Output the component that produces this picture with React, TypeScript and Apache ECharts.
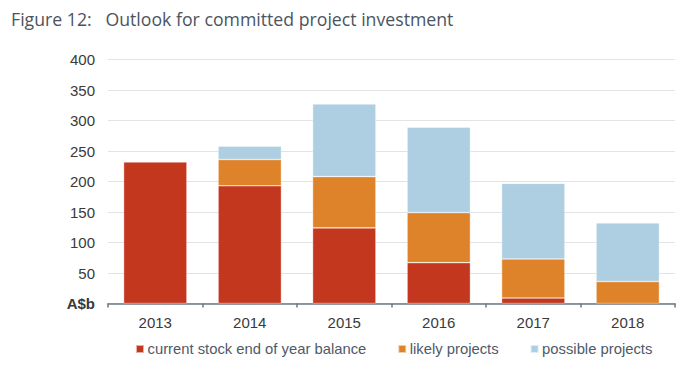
import React, { useEffect, useRef } from "react";
import * as echarts from "echarts";

const categories = ["2013", "2014", "2015", "2016", "2017", "2018"];
const currentStock = [232, 193, 124, 67, 9, 0];
const likelyProjects = [0, 43, 84, 82, 64, 36];
const possibleProjects = [0, 22, 119, 140, 124, 96];
const seriesNames = ["current stock end of year balance", "likely projects", "possible projects"];
const colors = ["#C3371F", "#DE832A", "#AECFE1"];

export default function App() {
  const ref = useRef<HTMLDivElement>(null);
  useEffect(() => {
    if (!ref.current) return;
    const chart = echarts.init(ref.current, null, { renderer: "svg" });
    const values = [currentStock, likelyProjects, possibleProjects];
    chart.setOption({
      animation: false,
      title: {
        text: "Figure 12:   Outlook for committed project investment",
        left: 6,
        top: 5,
        textStyle: { fontFamily: "Open Sans", fontSize: 17.7, fontWeight: "normal", color: "#4b5461" },
      },
      grid: { left: 108, right: 7, top: 59.5, bottom: 65.5, containLabel: false },
      legend: {
        left: 135,
        top: 341.5,
        padding: 0,
        icon: "rect",
        itemWidth: 8,
        itemHeight: 8,
        itemGap: 31,
        textStyle: { fontFamily: "Liberation Sans", fontSize: 14.8, color: "#4f5968", padding: [0, 0, 0, -1.5] },
        data: seriesNames,
      },
      xAxis: {
        type: "category",
        data: categories,
        axisLine: { lineStyle: { color: "#6f7782", width: 1.5 } },
        axisTick: { show: true, length: 4, lineStyle: { color: "#6f7782", width: 1.5 } },
        axisLabel: { fontFamily: "Liberation Sans", fontSize: 15, color: "#3a3a3a", margin: 11 },
      },
      yAxis: {
        type: "value",
        min: 0,
        max: 400,
        interval: 50,
        axisLine: { show: false },
        axisTick: { show: false },
        splitLine: { lineStyle: { color: "#e1e4e7", width: 1.2 } },
        axisLabel: {
          fontFamily: "Liberation Sans",
          fontSize: 15,
          color: "#3a3a3a",
          margin: 13,
          formatter: (v: number) => (v === 0 ? "{b|A$b}" : String(v)),
          rich: { b: { fontFamily: "Liberation Sans", fontSize: 15, fontWeight: "bold", color: "#3a3a3a" } },
        },
      },
      series: seriesNames.map((name, i) => ({
        name,
        type: "bar",
        stack: "total",
        data: values[i].map((v) => (v === 0 ? "-" : v)),
        barWidth: "67%",
        itemStyle: { color: colors[i], borderColor: "rgba(255,255,255,0.6)", borderWidth: 0.6 },
      })),
    });
    return () => chart.dispose();
  }, []);
  return <div ref={ref} style={{ position: "absolute", left: 0, top: 0, width: 682, height: 369 }} />;
}
